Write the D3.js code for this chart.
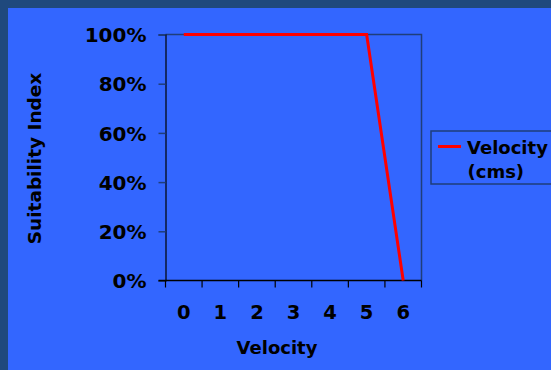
<!DOCTYPE html>
<html>
<head>
<meta charset="utf-8">
<script src="https://cdn.jsdelivr.net/npm/d3@7"></script>
<style>
  html, body { margin: 0; padding: 0; background: #3366FF; }
  svg { display: block; }
  text { font-family: Tahoma, "DejaVu Sans", sans-serif; font-weight: bold; fill: #000; }
</style>
</head>
<body>
<svg id="chart" width="551" height="370"></svg>
<script>
// ---- data ----
const categories = ["0", "1", "2", "3", "4", "5", "6"];
const suitability = [1, 1, 1, 1, 1, 1, 0];
const yTicks = [0, 0.2, 0.4, 0.6, 0.8, 1];
const seriesName = ["Velocity", "(cms)"];
const xTitle = "Velocity";
const yTitle = "Suitability Index";

// ---- layout ----
const W = 551, H = 370;
const plot = { left: 165.5, right: 421.5, top: 34.5, bottom: 280.5 };
const navy = "#1F3E7A";

const svg = d3.select("#chart");

// frame (top & left dark border)
svg.append("rect").attr("x", 0).attr("y", 0).attr("width", W).attr("height", H).attr("fill", "#1F497D");
svg.append("rect").attr("x", 8).attr("y", 8).attr("width", W - 8).attr("height", H - 8).attr("fill", "#3366FF");

const x = d3.scaleBand().domain(categories).range([plot.left, plot.right]).padding(0);
const y = d3.scaleLinear().domain([0, 1]).range([plot.bottom, plot.top]);

// plot border (top and right)
svg.append("path")
  .attr("d", `M${plot.left},${plot.top}H${plot.right}V${plot.bottom}`)
  .attr("fill", "none").attr("stroke", navy).attr("stroke-width", 1.5);

// y axis
const yAxis = d3.axisLeft(y).tickValues(yTicks).tickSize(7).tickPadding(12)
  .tickFormat(d3.format(".0%"));
const gy = svg.append("g").attr("transform", `translate(${plot.left},0)`).call(yAxis);
gy.select(".domain").attr("stroke", "#000").attr("stroke-width", 1.2);
gy.selectAll(".tick line").attr("stroke", navy).attr("stroke-width", 1.5);
gy.selectAll(".tick text").attr("font-size", 20).attr("font-family", null).attr("fill", "#000")
  .attr("dy", "0.36em");

// x axis: labels at category centers, ticks at boundaries
const xAxis = d3.axisBottom(x).tickSize(0).tickPadding(25);
const gx = svg.append("g").attr("transform", `translate(0,${plot.bottom})`).call(xAxis);
gx.select(".domain").remove();
gx.selectAll(".tick text").attr("font-size", 19.5).attr("font-family", null).attr("fill", "#000");

const boundaries = categories.map(c => x(c)).concat([x(categories[categories.length - 1]) + x.bandwidth()]);
svg.append("g").selectAll("line").data(boundaries).join("line")
  .attr("x1", d => d).attr("x2", d => d)
  .attr("y1", plot.bottom).attr("y2", plot.bottom + 7)
  .attr("stroke", "#000").attr("stroke-width", 1.2);
svg.append("line")
  .attr("x1", plot.left - 7).attr("x2", plot.right)
  .attr("y1", plot.bottom).attr("y2", plot.bottom)
  .attr("stroke", "#000").attr("stroke-width", 1.5);

// data line
const line = d3.line()
  .x((d, i) => x(categories[i]) + x.bandwidth() / 2)
  .y(d => y(d));
svg.append("path").datum(suitability)
  .attr("d", line).attr("fill", "none")
  .attr("stroke", "#FF0000").attr("stroke-width", 3);

// axis titles
svg.append("text").attr("x", 277).attr("y", 354)
  .attr("text-anchor", "middle").attr("font-size", 18).text(xTitle);
svg.append("text")
  .attr("transform", "translate(41,158.5) rotate(-90)")
  .attr("text-anchor", "middle").attr("font-size", 18.5).text(yTitle);

// legend
const lg = svg.append("g");
lg.append("rect").attr("x", 431).attr("y", 131).attr("width", 130).attr("height", 53)
  .attr("fill", "none").attr("stroke", navy).attr("stroke-width", 1.5);
lg.append("line").attr("x1", 438).attr("x2", 461).attr("y1", 146.5).attr("y2", 146.5)
  .attr("stroke", "#FF0000").attr("stroke-width", 3);
lg.append("text").attr("x", 467).attr("y", 154).attr("font-size", 18).text(seriesName[0]);
lg.append("text").attr("x", 467.5).attr("y", 178).attr("font-size", 18).text(seriesName[1]);
</script>
</body>
</html>
